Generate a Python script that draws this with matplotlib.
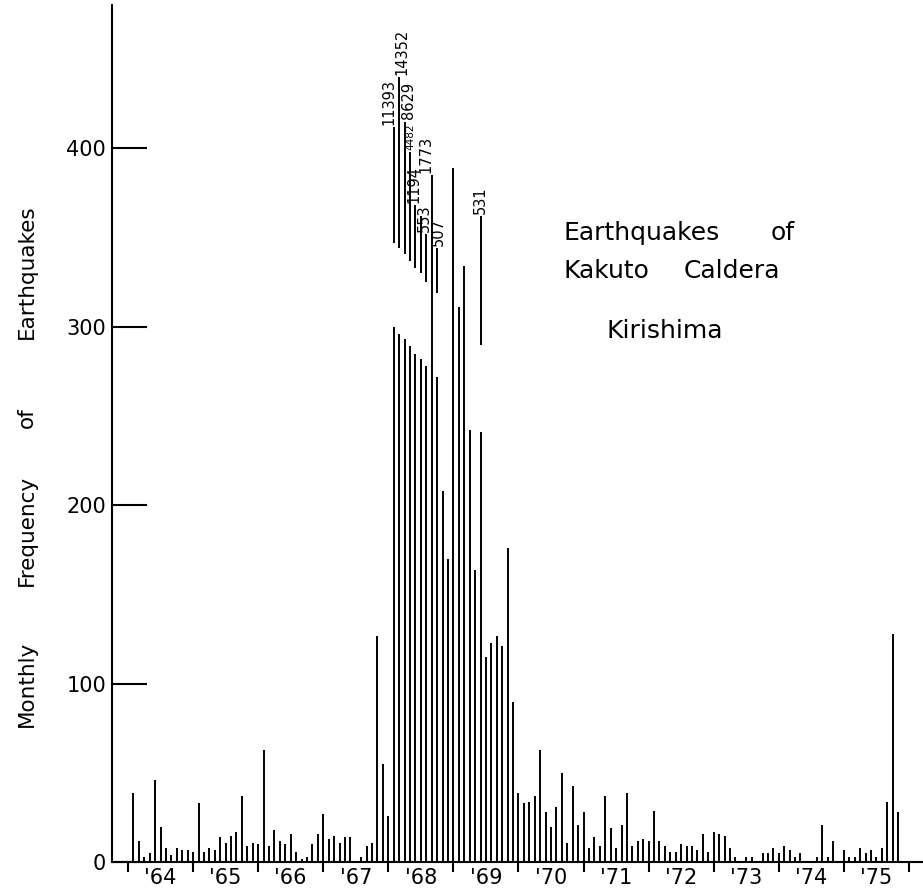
import numpy as np
import matplotlib.pyplot as plt
from matplotlib.transforms import offset_copy

plt.rcParams['font.family'] = ['DejaVu Sans']

# monthly counts as drawn (Jan .. Dec), broken bars give the height of the lower piece
counts_1964 = [0, 39, 12, 3, 5, 46, 20, 8, 4, 8, 7, 7]
counts_1965 = [6, 33, 6, 8, 7, 14, 11, 15, 17, 37, 9, 11]
counts_1966 = [10, 63, 9, 18, 12, 10, 16, 6, 2, 3, 10, 16]
counts_1967 = [27, 13, 15, 11, 14, 14, 0, 3, 9, 11, 127, 55]
counts_1968 = [26, 300, 296, 293, 289, 285, 282, 278, 385, 272, 208, 170]
counts_1969 = [389, 311, 334, 242, 164, 241, 115, 123, 127, 121, 176, 90]
counts_1970 = [39, 33, 34, 37, 63, 28, 20, 31, 50, 11, 43, 21]
counts_1971 = [28, 8, 14, 9, 37, 19, 8, 21, 39, 9, 12, 13]
counts_1972 = [12, 29, 12, 9, 6, 6, 10, 9, 9, 7, 16, 6]
counts_1973 = [17, 16, 15, 8, 3, 0, 3, 3, 0, 5, 5, 8]
counts_1974 = [5, 9, 7, 3, 5, 1, 0, 3, 21, 3, 12, 1]
counts_1975 = [7, 3, 3, 8, 5, 7, 3, 8, 34, 128, 28, 0]

counts = np.array(counts_1964 + counts_1965 + counts_1966 + counts_1967 +
                  counts_1968 + counts_1969 + counts_1970 + counts_1971 +
                  counts_1972 + counts_1973 + counts_1974 + counts_1975)
months = 1964 + np.arange(len(counts)) / 12

# upper pieces of the broken bars (month index from Jan 1964)
broken_idx = [49, 50, 51, 52, 53, 54, 55, 57, 65]
upper_low = [347, 344, 341, 337, 333, 330, 325, 319, 290]
upper_high = [412, 440, 415, 398, 368, 362, 352, 344, 362]

# true counts written above the peaks
label_idx = [49, 50, 51, 52, 53, 55, 56, 57, 65]
label_text = ['11393', '14352', '8629', '4482', '1194', '553', '1773', '507', '531']
label_dx = [-5, 3, 4, 0, -1, -2, -6, 1, 0]   # sideways nudge in points

years = list(range(1964, 1977))
year_labels = ["'64", "'65", "'66", "'67", "'68", "'69", "'70", "'71", "'72", "'73", "'74", "'75"]

fig = plt.figure(figsize=(9.23, 8.92), dpi=100)
ax = fig.add_axes([111.5 / 923, 29.7 / 892, 1 - 111.5 / 923, 857.3 / 892])

ax.vlines(months, 0, counts, color='black', lw=1.4)
ax.vlines(months[broken_idx], upper_low, upper_high, color='black', lw=1.4)

tops = {i: counts[i] for i in range(len(counts))}
for i, lo, hi in zip(broken_idx, upper_low, upper_high):
    tops[i] = hi
for i, t, dx in zip(label_idx, label_text, label_dx):
    fs = 7.5 if t == '4482' else 10.5
    tr = offset_copy(ax.transData, fig=fig, x=dx * 0.72, y=1.5, units='points')
    ax.text(months[i], tops[i], t, rotation=90, ha='center', va='bottom',
            fontsize=fs, transform=tr)

ax.set_xlim(1964 - 16.5 / 65.08, 1964 + 795 / 65.08)
ax.set_ylim(0, 480.3)

for s in ['top', 'right']:
    ax.spines[s].set_visible(False)
ax.spines['left'].set_linewidth(1.5)
ax.spines['bottom'].set_linewidth(1.5)

ax.set_yticks([0, 100, 200, 300, 400])
ax.tick_params(axis='y', direction='in', length=25, width=1.5, labelsize=15, pad=4)

ax.set_xticks(years)
ax.set_xticklabels([])
ax.set_xticks([y + 0.5 for y in years[:-1]], minor=True)
ax.set_xticklabels(year_labels, minor=True)
ax.tick_params(axis='x', which='major', direction='out', length=7.5, width=1.5)
ax.tick_params(axis='x', which='minor', length=0, labelsize=15, pad=4)

# y label, words spread out as in the lettering
ylab_words = ['Monthly', 'Frequency', 'of', 'Earthquakes']
ylab_centers = [684, 530, 418, 272]
for w, yc in zip(ylab_words, ylab_centers):
    fig.text(33 / 923, 1 - yc / 892, w, rotation=90, rotation_mode='anchor',
             ha='center', va='baseline', fontsize=15.5)

fig.text(563 / 923, 1 - 240 / 892, 'Earthquakes', ha='left', va='baseline', fontsize=18)
fig.text(795 / 923, 1 - 240 / 892, 'of', ha='right', va='baseline', fontsize=18)
fig.text(563 / 923, 1 - 278 / 892, 'Kakuto', ha='left', va='baseline', fontsize=18)
fig.text(780 / 923, 1 - 278 / 892, 'Caldera', ha='right', va='baseline', fontsize=18)
fig.text(665 / 923, 1 - 338 / 892, 'Kirishima', ha='center', va='baseline', fontsize=18)

fig.savefig('out.png', dpi=100)
